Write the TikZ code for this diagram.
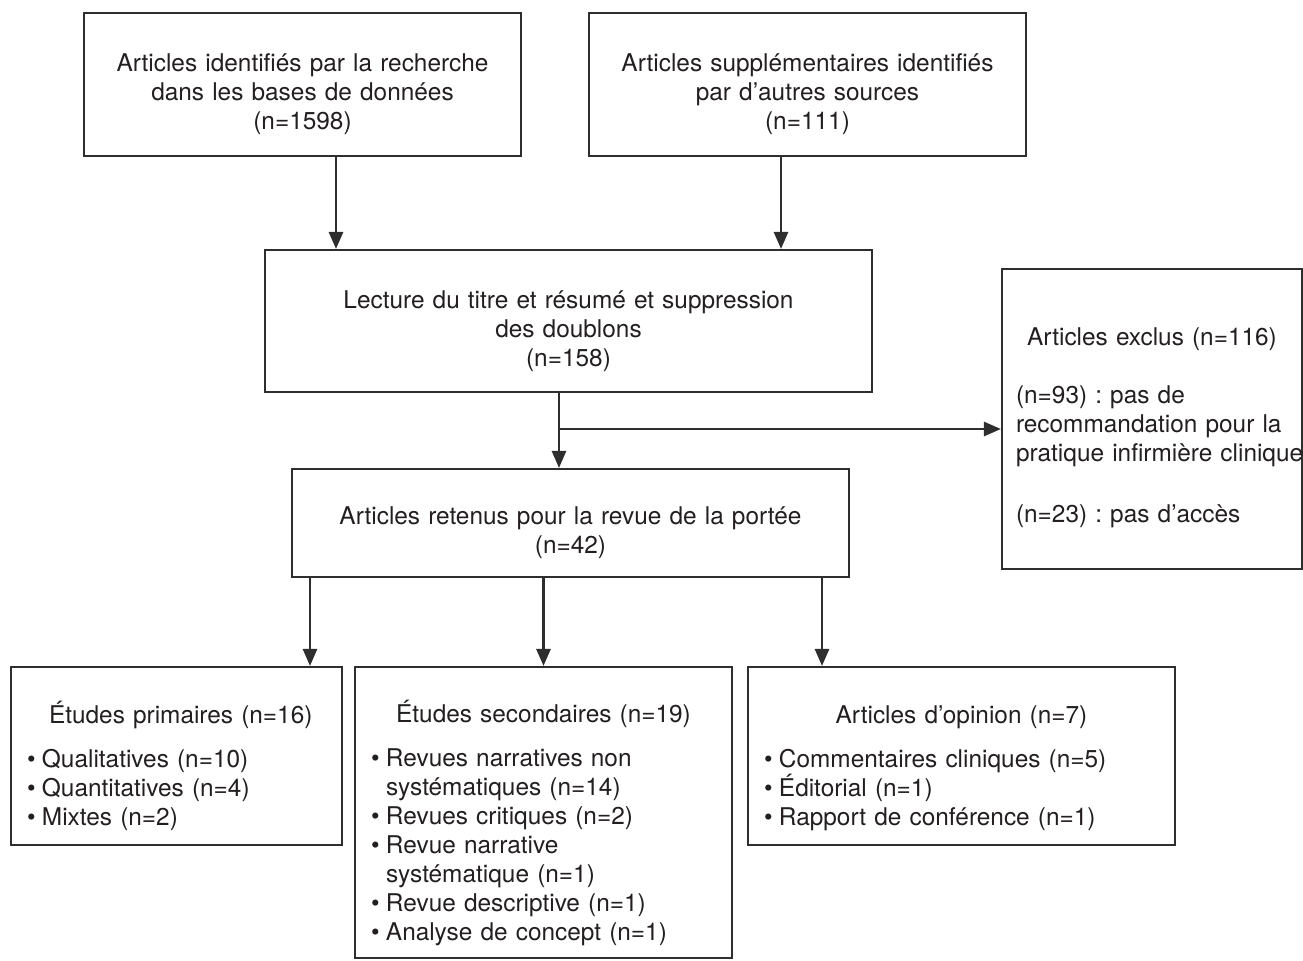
\documentclass[tikz,border=0pt]{standalone}
\usepackage{fontspec}
\setmainfont{TeX Gyre Heros}
\usetikzlibrary{arrows.meta}

\definecolor{trait}{HTML}{2E2E2E}
\definecolor{encre}{HTML}{231F20}

% ligne de liste a puce, avec retrait des lignes suivantes
\newcommand{\puce}[1]{\par\hangindent=7.5pt\hangafter=1\noindent\hbox to 7.5pt{\textbullet\hfil}#1}
% descend le texte dans sa boite
\newcommand{\decale}[1]{\par\vspace*{#1}}

\begin{document}
\begin{tikzpicture}[x=0.5pt,y=-0.5pt,
	boite/.style={draw=trait,line width=1.05pt,fill=white,text=encre,inner ysep=0pt,
		font=\fontsize{12.2}{14.5}\selectfont\frenchspacing},
	titre/.style={boite,align=center,inner xsep=4pt},
	liste/.style={boite,align=left,inner xsep=8pt},
	fleche/.style={draw=trait,line width=1.35pt,-{Triangle[length=8.5pt,width=7pt]}}
	]

	\useasboundingbox (0,0) rectangle (1303,960);

	\node[titre,text width=210.5pt,minimum height=71.5pt] at (302.5,84.5) (A)
		{\decale{4pt}Articles identifiés par la recherche\\dans les bases de données\\(n=1598)};
	\node[titre,text width=210.5pt,minimum height=71.5pt] at (807.5,84.5) (B)
		{\decale{4pt}Articles supplémentaires identifiés\\par d’autres sources\\(n=111)};
	\node[titre,text width=295.5pt,minimum height=71pt] at (568.5,321) (C)
		{\decale{4.5pt}Lecture du titre et résumé et suppression\\des doublons\\(n=158)};
	\node[titre,text width=270.5pt,minimum height=54pt] at (570.5,523) (D)
		{\decale{4pt}Articles retenus pour la revue de la portée\\(n=42)};

	\node[liste,inner xsep=7pt,text width=136pt,minimum height=150pt] at (1152,419) (X)
		{\decale{3pt}{\centering Articles exclus (n=116)\par}\vspace{14.5pt}
		\mbox{(n=93) : pas de}\\\mbox{recommandation pour la}\\\mbox{pratique infirmière clinique}\par\vspace{16pt}
		(n=23) : pas d’accès};

	\node[liste,text width=149.5pt,minimum height=89pt] at (176.5,756) (E)
		{\decale{6.2pt}\hspace*{11pt}Études primaires (n=16)\par\vspace{7.5pt}
		\puce{Qualitatives (n=10)}\puce{Quantitatives (n=4)}\puce{Mixtes (n=2)}};
	\node[liste,text width=172.5pt,minimum height=145.5pt] at (543.5,812.5) (F)
		{\decale{7.2pt}{\centering Études secondaires (n=19)\par}\vspace{7.5pt}
		\puce{Revues narratives non\newline systématiques (n=14)}
		\puce{Revues critiques (n=2)}
		\puce{Revue narrative\newline systématique (n=1)}
		\puce{Revue descriptive (n=1)}
		\puce{Analyse de concept (n=1)}};
	\node[liste,text width=197.5pt,minimum height=89pt] at (961.5,756) (G)
		{\decale{6.5pt}{\centering Articles d’opinion (n=7)\par}\vspace{7.5pt}
		\puce{Commentaires cliniques (n=5)}\puce{Éditorial (n=1)}\puce{Rapport de conférence (n=1)}};

	\draw[fleche] ([xshift=16.75pt]A.south) -- ([xshift=16.75pt]A.south |- C.north);
	\draw[fleche] ([xshift=-13.25pt]B.south) -- ([xshift=-13.25pt]B.south |- C.north);

	\coordinate (branche) at (559,429);
	\draw[fleche] ([xshift=-4.75pt]C.south) -- ([xshift=-4.75pt]C.south |- D.north);
	\draw[fleche] (branche) -- (branche -| X.west);

	\draw[fleche] ([xshift=-130.25pt]D.south) -- ([xshift=-130.25pt]D.south |- E.north);
	\draw[fleche] ([xshift=-13.5pt]D.south) -- ([xshift=-13.5pt]D.south |- F.north);
	\draw[fleche] ([xshift=125.75pt]D.south) -- ([xshift=125.75pt]D.south |- G.north);
\end{tikzpicture}
\end{document}
